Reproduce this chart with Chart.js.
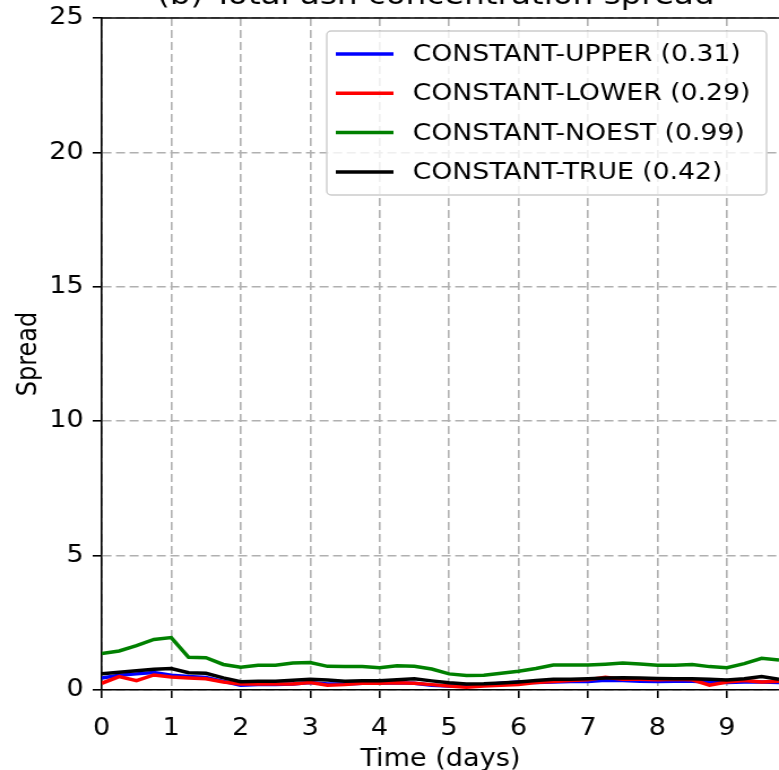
<!DOCTYPE html>
<html>
<head>
<meta charset="utf-8">
<script src="https://cdn.jsdelivr.net/npm/chart.js@4"></script>
<style>
  html, body { margin: 0; padding: 0; background: #fff; overflow: hidden; }
  #wrap { width: 689px; height: 770px; transform: scaleX(1.1306); transform-origin: 0 0; }
</style>
</head>
<body>
<div id="wrap"><canvas id="spread" width="689" height="770"></canvas></div>
<script>
// time axis (days) and the four spread series
var days = [0, 0.25, 0.5, 0.75, 1, 1.25, 1.5, 1.75, 2, 2.25, 2.5, 2.75, 3, 3.25, 3.5, 3.75,
  4, 4.25, 4.5, 4.75, 5, 5.25, 5.5, 5.75, 6, 6.25, 6.5, 6.75, 7, 7.25, 7.5, 7.75,
  8, 8.25, 8.5, 8.75, 9, 9.25, 9.5, 9.75];
var upper = [0.45, 0.55, 0.6, 0.65, 0.55, 0.5, 0.47, 0.32, 0.18, 0.2, 0.2, 0.22, 0.28, 0.22, 0.22, 0.25,
  0.25, 0.27, 0.25, 0.18, 0.15, 0.15, 0.2, 0.25, 0.3, 0.28, 0.3, 0.32, 0.32, 0.36, 0.35, 0.33,
  0.32, 0.33, 0.33, 0.3, 0.28, 0.3, 0.3, 0.28];
var lower = [0.25, 0.5, 0.35, 0.56, 0.48, 0.45, 0.42, 0.3, 0.22, 0.22, 0.22, 0.22, 0.28, 0.18, 0.2, 0.25,
  0.25, 0.27, 0.25, 0.2, 0.15, 0.1, 0.15, 0.18, 0.2, 0.28, 0.32, 0.35, 0.38, 0.47, 0.4, 0.4,
  0.38, 0.4, 0.38, 0.18, 0.3, 0.35, 0.3, 0.33];
var noest = [1.36, 1.45, 1.65, 1.88, 1.95, 1.22, 1.2, 0.95, 0.85, 0.92, 0.92, 1.0, 1.02, 0.88, 0.87, 0.87,
  0.83, 0.9, 0.88, 0.78, 0.6, 0.54, 0.55, 0.62, 0.7, 0.8, 0.93, 0.93, 0.93, 0.96, 1.0, 0.97,
  0.92, 0.92, 0.95, 0.87, 0.83, 0.98, 1.18, 1.12];
var truth = [0.6, 0.66, 0.72, 0.77, 0.8, 0.64, 0.62, 0.45, 0.31, 0.33, 0.33, 0.36, 0.4, 0.37, 0.33, 0.34,
  0.34, 0.38, 0.42, 0.34, 0.27, 0.22, 0.23, 0.26, 0.3, 0.35, 0.4, 0.4, 0.42, 0.45, 0.46, 0.45,
  0.43, 0.42, 0.42, 0.4, 0.37, 0.42, 0.5, 0.4];
var seriesNames = ["CONSTANT-UPPER (0.31)", "CONSTANT-LOWER (0.29)", "CONSTANT-NOEST (0.99)", "CONSTANT-TRUE (0.42)"];
var seriesColors = ["#0000ff", "#ff0000", "#008000", "#000000"];
var yTicks = [0, 5, 10, 15, 20, 25];

var FONT = "'DejaVu Sans', sans-serif";
var FS = 24;

function pts(vals) {
  return days.map(function(d, i) { return { x: d, y: vals[i] }; });
}

var allSeries = [upper, lower, noest, truth];
var datasets = allSeries.map(function(vals, i) {
  return {
    label: seriesNames[i],
    data: pts(vals),
    borderColor: seriesColors[i],
    borderWidth: 3.5,
    pointRadius: 0,
    tension: 0,
    fill: false,
    order: allSeries.length - i   // matplotlib: later series on top
  };
});

// top spine, clipped title and the boxed legend
var extras = {
  id: 'extras',
  afterDraw: function(chart) {
    var ctx = chart.ctx, a = chart.chartArea;
    ctx.save();
    ctx.strokeStyle = '#000';
    ctx.lineWidth = 1.6;
    ctx.beginPath();
    ctx.moveTo(a.left, a.top);
    ctx.lineTo(a.right, a.top);
    ctx.stroke();

    ctx.fillStyle = '#000';
    ctx.font = (FS * 1.2) + 'px ' + FONT;
    ctx.textAlign = 'center';
    ctx.textBaseline = 'alphabetic';
    ctx.fillText('(b) Total ash concentration spread', (a.left + a.right) / 2 - 4, 4);

    // legend box
    var bx = 289, by = 31, bw = 389, bh = 164, r = 4;
    ctx.beginPath();
    ctx.moveTo(bx + r, by);
    ctx.arcTo(bx + bw, by, bx + bw, by + bh, r);
    ctx.arcTo(bx + bw, by + bh, bx, by + bh, r);
    ctx.arcTo(bx, by + bh, bx, by, r);
    ctx.arcTo(bx, by, bx + bw, by, r);
    ctx.closePath();
    ctx.fillStyle = 'rgba(255,255,255,0.8)';
    ctx.fill();
    ctx.strokeStyle = '#cccccc';
    ctx.lineWidth = 1.4;
    ctx.stroke();

    ctx.font = (FS - 0.4) + 'px ' + FONT;
    ctx.textAlign = 'left';
    ctx.textBaseline = 'middle';
    for (var i = 0; i < seriesNames.length; i++) {
      var yy = 54 + i * 39.3;
      ctx.strokeStyle = seriesColors[i];
      ctx.lineWidth = 3.5;
      ctx.beginPath();
      ctx.moveTo(297, yy);
      ctx.lineTo(348, yy);
      ctx.stroke();
      ctx.fillStyle = '#000';
      ctx.fillText(seriesNames[i], 365, yy + 1);
    }
    ctx.restore();
  }
};

new Chart(document.getElementById('spread'), {
  type: 'line',
  data: { datasets: datasets },
  options: {
    responsive: false,
    animation: false,
    layout: { autoPadding: false, padding: { top: 18, right: 0, left: 0, bottom: 0 } },
    plugins: { legend: { display: false }, tooltip: { enabled: false } },
    scales: {
      x: {
        type: 'linear', min: 0, max: 9.75,
        ticks: { stepSize: 1, includeBounds: false, padding: 16, color: '#000',
          font: { family: FONT, size: FS }, maxRotation: 0, autoSkip: false },
        grid: { color: '#b0b0b0', lineWidth: 1.6, tickColor: '#000', tickLength: 8, tickWidth: 1.6 },
        border: { color: '#000', width: 1.6, dash: [8, 4] },
        title: { display: true, text: 'Time (days)', color: '#000',
          font: { family: FONT, size: FS }, padding: { top: 0, bottom: -4 } },
        afterFit: function(s) { s.height = 80; s.paddingLeft = 0; s.paddingRight = 0; }
      },
      y: {
        min: 0, max: 25,
        afterBuildTicks: function(s) { s.ticks = yTicks.map(function(v) { return { value: v }; }); },
        ticks: { padding: 8, color: '#000', font: { family: FONT, size: FS } },
        grid: { color: '#b0b0b0', lineWidth: 1.6, tickColor: '#000', tickLength: 8, tickWidth: 1.6 },
        border: { color: '#000', width: 1.6, dash: [8, 4] },
        title: { display: true, text: 'Spread', color: '#000',
          font: { family: FONT, size: FS }, padding: { top: 11.5, bottom: 0 } },
        afterFit: function(s) { s.width = 90; s.paddingTop = 0; s.paddingBottom = 0; }
      }
    }
  },
  plugins: [extras]
});
</script>
</body>
</html>
